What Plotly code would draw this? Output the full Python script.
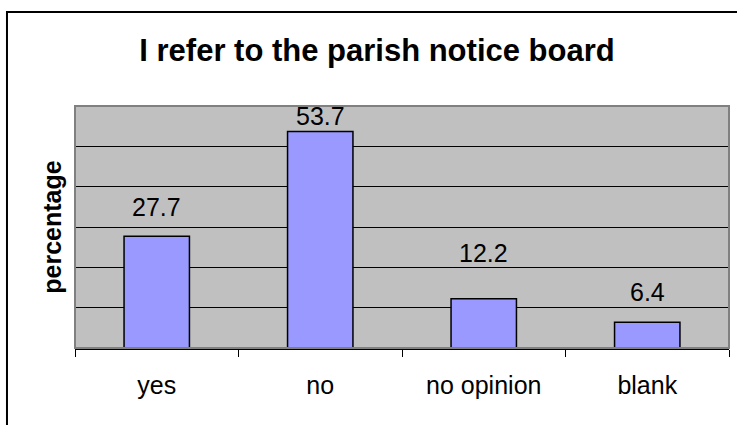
import plotly.graph_objects as go

categories = ["yes", "no", "no opinion", "blank"]
values = [27.7, 53.7, 12.2, 6.4]
label_texts = ["27.7", "53.7", "12.2", "6.4"]
title_text = "I refer to the parish notice board"
y_title = "percentage"

# label gap above each bar (pixels), styling only
label_gaps = [13, -1, 30, 14]

FONT = "Arial, Liberation Sans, sans-serif"

fig = go.Figure()
fig.add_trace(go.Bar(
    x=categories, y=values,
    marker=dict(color="#9999FF", line=dict(color="black", width=1.5)),
    hoverinfo="skip",
))

for c, v, t, g in zip(categories, values, label_texts, label_gaps):
    fig.add_annotation(x=c, y=v, text=t, showarrow=False, yanchor="bottom",
                       yshift=g, font=dict(family=FONT, size=25, color="black"))

# chart border (clipped by page right/bottom)
fig.add_shape(type="rect", xref="paper", yref="paper",
              x0=-0.104, x1=1.03, y0=-0.4, y1=1.388,
              line=dict(color="black", width=2), layer="below")
# plot area border
fig.add_shape(type="rect", xref="paper", yref="paper",
              x0=0, x1=1, y0=0, y1=1,
              line=dict(color="#808080", width=2), layer="above")

fig.update_layout(
    width=737, height=425,
    margin=dict(l=75, r=8, t=106, b=77),
    paper_bgcolor="white",
    plot_bgcolor="#C0C0C0",
    bargap=0.6,
    showlegend=False,
    title=dict(text=title_text, x=377/737, xref="container", xanchor="center",
               y=1 - 50/425, yref="container", yanchor="middle",
               font=dict(family=FONT, size=31, color="black", weight="bold")),
    xaxis=dict(showline=True, linecolor="black", linewidth=1.5,
               ticks="outside", tickson="boundaries", ticklen=7, tickcolor="black",
               ticklabelstandoff=14,
               tickfont=dict(family=FONT, size=25, color="black"),
               showgrid=False, fixedrange=True),
    yaxis=dict(range=[0, 60], dtick=10, showticklabels=False, ticks="",
               showgrid=True, gridcolor="black", gridwidth=1,
               zeroline=False, showline=False,
               title=dict(text=y_title, standoff=5,
                          font=dict(family=FONT, size=25, color="black", weight="bold"))),
)

fig.write_html("out.html", config={"displayModeBar": False},
               post_script="document.body.style.margin='0px';document.body.style.overflow='hidden';")
